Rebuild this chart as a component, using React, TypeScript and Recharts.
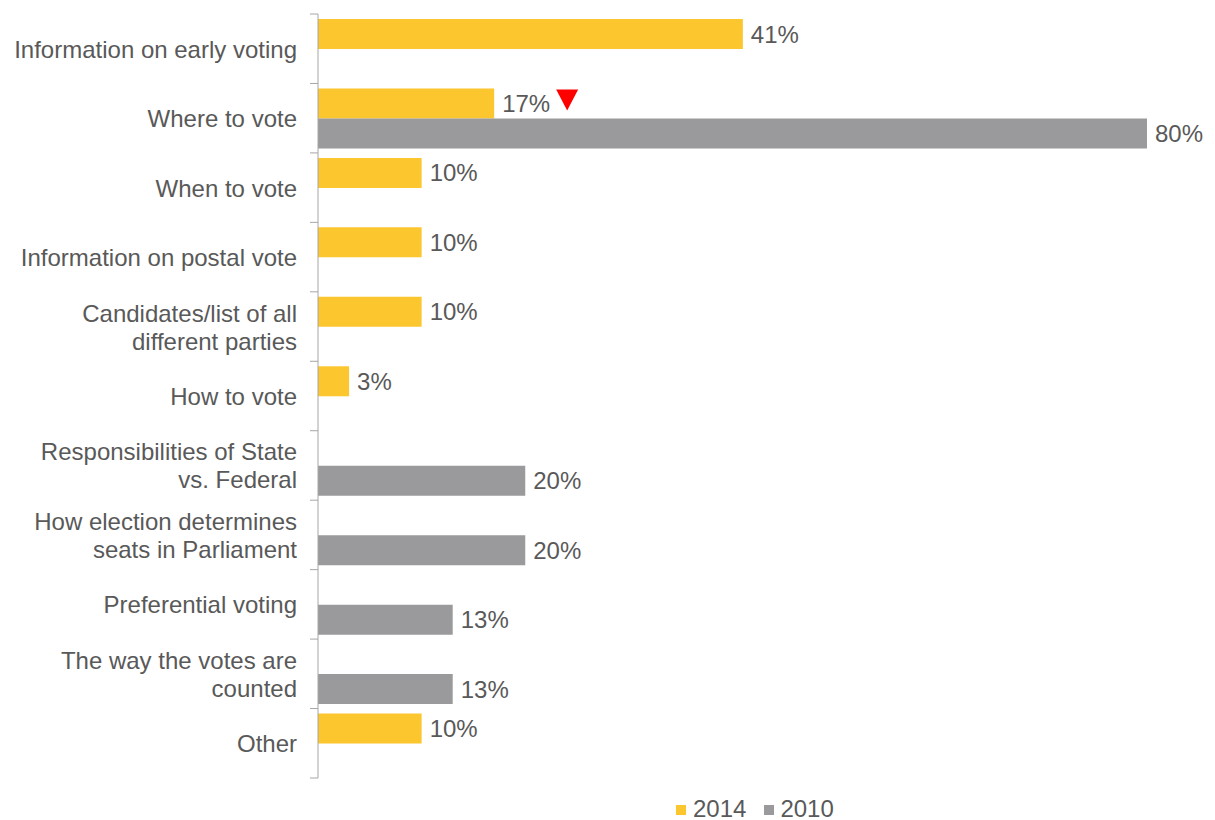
import { BarChart, Bar, XAxis, YAxis, LabelList } from 'recharts'

const categories = [
  'Information on early voting',
  'Where to vote',
  'When to vote',
  'Information on postal vote',
  'Candidates/list of all\ndifferent parties',
  'How to vote',
  'Responsibilities of State\nvs. Federal',
  'How election determines\nseats in Parliament',
  'Preferential voting',
  'The way the votes are\ncounted',
  'Other',
]
const values2014 = [41, 17, 10, 10, 10, 3, null, null, null, null, 10]
const values2010 = [null, 80, null, null, null, null, 20, 20, 13, 13, null]
// categories where 2014 dropped significantly vs 2010
const dropped = ['Where to vote']

const YELLOW = '#FCC62F'
const GREY = '#9A9A9C'
const TEXT = '#595959'
const AXIS = '#A6A6A6'
const FONT = '"Liberation Sans", Arial, sans-serif'
const FS = 24

const WIDTH = 1215
const HEIGHT = 820
const MARGIN = { top: 14, right: 68, bottom: 42, left: 0 }
const AXIS_W = 318
const BAND = (HEIGHT - MARGIN.top - MARGIN.bottom) / categories.length

const data = categories.map((name, i) => ({
  name,
  y2014: values2014[i],
  y2010: values2010[i],
  drop: dropped.includes(name),
}))

function CategoryTick(props: any) {
  const { y, payload, index } = props
  const lines = String(payload.value).split('\n')
  const lh = 28
  const top = y - ((lines.length - 1) * lh) / 2
  const x = AXIS_W
  return (
    <g>
      <line x1={x - 8} x2={x} y1={y - BAND / 2} y2={y - BAND / 2} stroke={AXIS} />
      {index === categories.length - 1 && (
        <line x1={x - 8} x2={x} y1={y + BAND / 2} y2={y + BAND / 2} stroke={AXIS} />
      )}
      <text x={x - 21} y={top} textAnchor="end" fill={TEXT} fontSize={FS} fontFamily={FONT} dominantBaseline="central">
        {lines.map((l, i) => (
          <tspan key={i} x={x - 21} dy={i === 0 ? 0 : lh}>
            {l}
          </tspan>
        ))}
      </text>
    </g>
  )
}

function ValueLabel(props: any) {
  const { x, y, width, height, value, index, showDrop } = props
  if (value == null) return null
  const tx = x + width + 8
  const cy = y + height / 2
  const flag = showDrop && data[index].drop
  return (
    <g>
      <text x={tx} y={cy} fill={TEXT} fontSize={FS} fontFamily={FONT} dominantBaseline="central">
        {value}%
      </text>
      {flag && (
        <polygon
          points={`${tx + 54},${cy - 14} ${tx + 76},${cy - 14} ${tx + 65},${cy + 7}`}
          fill="#FF0000"
        />
      )}
    </g>
  )
}

export default function App() {
  return (
    <div style={{ position: 'absolute', left: 0, top: 0, width: WIDTH, height: HEIGHT, background: '#fff', fontFamily: FONT }}>
      <BarChart width={WIDTH} height={HEIGHT} data={data} layout="vertical" margin={MARGIN} barGap={0} barSize={30}>
        <XAxis type="number" domain={[0, 80]} hide />
        <YAxis
          type="category"
          dataKey="name"
          width={AXIS_W}
          interval={0}
          axisLine={{ stroke: AXIS }}
          tickLine={false}
          tick={<CategoryTick />}
        />
        <Bar dataKey="y2014" name="2014" fill={YELLOW} isAnimationActive={false}>
          <LabelList dataKey="y2014" content={<ValueLabel showDrop />} />
        </Bar>
        <Bar dataKey="y2010" name="2010" fill={GREY} isAnimationActive={false}>
          <LabelList dataKey="y2010" content={<ValueLabel />} />
        </Bar>
      </BarChart>
      <div style={{ position: 'absolute', left: 676, top: 795, display: 'flex', alignItems: 'center', fontSize: FS, color: TEXT, lineHeight: '28px' }}>
        <span style={{ width: 10, height: 10, background: YELLOW, marginRight: 7, marginTop: 2 }} />
        <span>2014</span>
        <span style={{ width: 10, height: 10, background: GREY, marginLeft: 18, marginRight: 6, marginTop: 2 }} />
        <span>2010</span>
      </div>
    </div>
  )
}
